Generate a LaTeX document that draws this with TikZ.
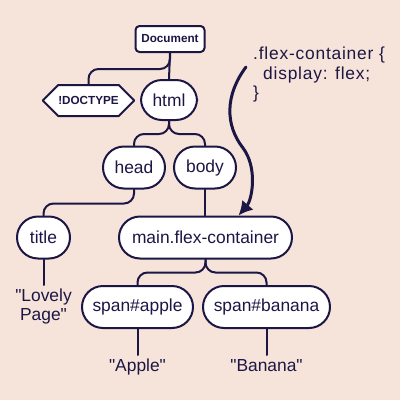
\documentclass[tikz,border=0pt]{standalone}
\usepackage{fontspec}
\setmainfont{Liberation Sans}
\newfontfamily\codefont[LetterSpace=4.5]{Liberation Sans}
\newfontfamily\leaffont{Liberation Sans}
\usetikzlibrary{arrows.meta}
\usetikzlibrary{shapes.symbols}
\definecolor{peach}{HTML}{F6E4DA}
\definecolor{ink}{HTML}{1C1645}

\begin{document}
\begin{tikzpicture}[x=1pt,y=-1pt,line cap=round,line join=round,
  tag/.style={draw=ink, line width=2pt, fill=white, text=ink, rounded corners=21pt,
    minimum height=42pt, inner xsep=0pt, font=\fontsize{17.4}{19}\selectfont},
  docbox/.style={draw=ink, line width=2pt, fill=white, text=ink, rounded corners=4pt,
    minimum height=26pt, inner xsep=0pt, font=\bfseries\fontsize{11.7}{13}\selectfont},
  doctag/.style={docbox, shape=signal, signal to=west and east, rounded corners=0pt,
    minimum height=31pt, minimum width=87pt},
  leaf/.style={text=ink, align=center, anchor=north, inner xsep=0pt, inner ysep=4pt,
    font=\leaffont\fontsize{17.4}{18.5}\selectfont},
  link/.style={draw=ink, line width=2pt, rounded corners=10pt},
  pointer/.style={draw=ink, line width=3pt, -{Latex[length=14pt, width=15pt]}}]
\fill[peach] (0,0) rectangle (400,400);
\node[docbox, minimum width=69pt] (document) at (170,39) {Document};
\node[doctag] (doctype) at (88.5,100.5) {!DOCTYPE};
\node[tag, minimum width=56pt, minimum height=40pt] (html) at (169,100) {html};
\node[tag, minimum width=62pt] (head) at (134,167.5) {head};
\node[tag, minimum width=62pt] (body) at (205,167.5) {body};
\node[tag, minimum width=53pt] (title) at (43.5,237.5) {title};
\node[tag, minimum width=173pt] (main) at (205.5,237.5) {main.flex-container};
\node[tag, minimum width=111pt] (apple) at (137.5,307) {span\#apple};
\node[tag, minimum width=127pt] (banana) at (266.5,307) {span\#banana};
\node[leaf] (lovely) at (43.5,285) {"Lovely\\Page"};
\node[leaf] (appletext) at (137.5,355) {"Apple"};
\node[leaf] (bananatext) at (266.5,355) {"Banana"};
\node[text=ink, anchor=north west, align=left, inner sep=0pt,
  font=\codefont\fontsize{17.4}{19.5}\selectfont] (css) at (253,47)
  {.flex-container \{\\\hspace*{10pt}display: flex;\\\}};
\coordinate (cssfrom) at (246,67);

\draw[link] (document.south) -- (html.north);
\draw[link] (document.south) -- ++(0,16) -| (doctype.north);
\draw[link] (html.south) -- ++(0,13) -| (head.north);
\draw[link] (html.south) -- ++(0,13) -| (body.north);
\draw[link] (head.south) -- ++(0,14) -| (title.north);
\draw[link] (body.south) -- (main.north -| body.south);
\draw[link] (main.south) -- ++(0,13) -| (apple.north);
\draw[link] (main.south) -- ++(0,13) -| (banana.north);
\draw[link] (title.south) -- (lovely.north);
\draw[link] (apple.south) -- (appletext.north);
\draw[link] (banana.south) -- (bananatext.north);
\draw[pointer] (cssfrom) .. controls (225,95) and (225,125) .. (243,148)
  .. controls (258,168) and (252,200) .. ([xshift=33pt]main.north);
\end{tikzpicture}
\end{document}
